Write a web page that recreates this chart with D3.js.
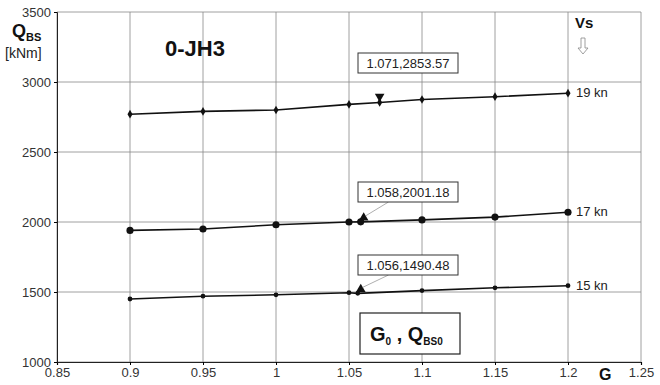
<!DOCTYPE html>
<html>
<head>
<meta charset="utf-8">
<script src="https://cdn.jsdelivr.net/npm/d3@7"></script>
<style>
  body { margin: 0; background: #fff; }
  svg { display: block; }
</style>
</head>
<body>
<div id="chart"></div>
<script>
// data
const gValues = [0.9, 0.95, 1.0, 1.05, 1.1, 1.15, 1.2];
const q19 = [2770, 2790, 2800, 2840, 2875, 2895, 2920];
const q17 = [1940, 1950, 1980, 2000, 2015, 2035, 2070];
const q15 = [1450, 1470, 1480, 1495, 1510, 1530, 1545];
const seriesNames = ["19 kn", "17 kn", "15 kn"];
const optG = [1.071, 1.058, 1.056];
const optQ = [2853.57, 2001.18, 1490.48];
const xTicks = [0.85, 0.9, 0.95, 1, 1.05, 1.1, 1.15, 1.2, 1.25];
const yTicks = [1000, 1500, 2000, 2500, 3000, 3500];

const width = 660, height = 385;
const margin = { left: 57, right: 19, top: 12, bottom: 23 };

const svg = d3.select("#chart").append("svg")
  .attr("width", width).attr("height", height)
  .attr("font-family", "Liberation Sans, Arial, sans-serif");

const x = d3.scaleLinear().domain([0.85, 1.25]).range([margin.left, width - margin.right]);
const y = d3.scaleLinear().domain([1000, 3500]).range([height - margin.bottom, margin.top]);

// grid
svg.append("g").selectAll("line.v").data(xTicks).join("line")
  .attr("x1", d => x(d)).attr("x2", d => x(d))
  .attr("y1", y(3500)).attr("y2", y(1000))
  .attr("stroke", "#888").attr("stroke-width", 0.8);
svg.append("g").selectAll("line.h").data(yTicks).join("line")
  .attr("x1", x(0.85)).attr("x2", x(1.25))
  .attr("y1", d => y(d)).attr("y2", d => y(d))
  .attr("stroke", "#888").attr("stroke-width", 0.8);

// axes
const xAxis = svg.append("g")
  .attr("transform", `translate(0,${y(1000)})`)
  .call(d3.axisBottom(x).tickValues(xTicks).tickSize(3).tickFormat(d3.format("~g")));
xAxis.select(".domain").attr("stroke", "#222").attr("stroke-width", 1.2);
xAxis.selectAll("text").attr("font-size", 13).attr("fill", "#333")
  .attr("font-family", "Liberation Sans, Arial, sans-serif");

const yAxis = svg.append("g")
  .attr("transform", `translate(${x(0.85)},0)`)
  .call(d3.axisLeft(y).tickValues(yTicks).tickSize(3).tickFormat(d3.format("d")));
yAxis.select(".domain").attr("stroke", "#222").attr("stroke-width", 1);
yAxis.selectAll("text").attr("font-size", 13).attr("fill", "#333")
  .attr("font-family", "Liberation Sans, Arial, sans-serif").attr("x", -6);

// series
const series = [q19, q17, q15].map((vals, i) => {
  const pts = gValues.map((g, j) => ({ g, q: vals[j] }));
  pts.push({ g: optG[i], q: optQ[i] });
  pts.sort((a, b) => a.g - b.g);
  return { name: seriesNames[i], pts, vals };
});

const line = d3.line().x(d => x(d.g)).y(d => y(d.q));
const markerSize = [22, 40, 18];
const markerType = [d3.symbolDiamond, d3.symbolCircle, d3.symbolCircle];

series.forEach((s, i) => {
  svg.append("path").datum(s.pts)
    .attr("d", line).attr("fill", "none")
    .attr("stroke", "#111").attr("stroke-width", 1.6);
  svg.append("g").selectAll("path").data(s.pts).join("path")
    .attr("transform", d => `translate(${x(d.g)},${y(d.q)})`)
    .attr("d", d3.symbol().type(markerType[i]).size(markerSize[i]))
    .attr("fill", "#111");
  svg.append("text")
    .attr("x", x(1.2) + 8).attr("y", y(s.vals[s.vals.length - 1]) + 4)
    .attr("font-size", 13).attr("fill", "#222").text(s.name);
});

// optimum markers and callouts
const boxTop = [53, 182, 255];
optG.forEach((g, i) => {
  const px = x(g), py = y(optQ[i]);
  if (i === 0) {
    svg.append("path")
      .attr("transform", `translate(${px},${py - 6}) rotate(180)`)
      .attr("d", d3.symbol().type(d3.symbolTriangle).size(40))
      .attr("fill", "#111");
    svg.append("line").attr("x1", px).attr("x2", px).attr("y1", py - 6).attr("y2", py)
      .attr("stroke", "#111").attr("stroke-width", 2);
  } else {
    svg.append("path")
      .attr("transform", `translate(${px + 3},${py - 4})`)
      .attr("d", d3.symbol().type(d3.symbolTriangle).size(40))
      .attr("fill", "#111");
    svg.append("line")
      .attr("x1", x(1.0565) + 30).attr("y1", boxTop[i] + 20)
      .attr("x2", px + 5).attr("y2", py - 6)
      .attr("stroke", "#999").attr("stroke-width", 0.8);
  }
  const label = `${d3.format(".3f")(g)},${d3.format(".2f")(optQ[i])}`;
  const g0 = svg.append("g").attr("transform", `translate(358,${boxTop[i]})`);
  g0.append("rect").attr("width", 100).attr("height", 20)
    .attr("fill", "#fff").attr("stroke", "#333").attr("stroke-width", 1);
  g0.append("text").attr("x", 50).attr("y", 15).attr("text-anchor", "middle")
    .attr("font-size", 13).attr("fill", "#222").text(label);
});

// G0, QBS0 box
const gq = svg.append("g").attr("transform", "translate(360,313)");
gq.append("rect").attr("width", 100).attr("height", 41)
  .attr("fill", "#fff").attr("stroke", "#222").attr("stroke-width", 1.2);
const gqText = gq.append("text").attr("x", 10).attr("y", 28)
  .attr("font-size", 20).attr("font-weight", "bold").attr("fill", "#111");
gqText.append("tspan").text("G");
gqText.append("tspan").attr("font-size", 10).attr("dy", 4).text("0");
gqText.append("tspan").attr("dy", -4).text(" , Q");
gqText.append("tspan").attr("font-size", 10).attr("dy", 4).text("BS0");

// titles
svg.append("text").attr("x", 165).attr("y", 56)
  .attr("font-size", 22).attr("font-weight", "bold").attr("fill", "#111").text("0-JH3");

const yl = svg.append("text").attr("x", 12).attr("y", 37)
  .attr("font-size", 18).attr("font-weight", "bold").attr("fill", "#111");
yl.append("tspan").text("Q");
yl.append("tspan").attr("font-size", 11).attr("dy", 4).text("BS");
svg.append("text").attr("x", 5).attr("y", 58)
  .attr("font-size", 14).attr("fill", "#222").text("[kNm]");

svg.append("text").attr("x", 599).attr("y", 380)
  .attr("font-size", 16).attr("font-weight", "bold").attr("fill", "#111").text("G");

svg.append("text").attr("x", 575).attr("y", 28)
  .attr("font-size", 15).attr("font-weight", "bold").attr("fill", "#111").text("Vs");

// hollow down arrow
svg.append("path")
  .attr("d", "M581,38 L581,48 L578,48 L583,54 L588,48 L585,48 L585,38 Z")
  .attr("fill", "#fff").attr("stroke", "#888").attr("stroke-width", 0.8);
</script>
</body>
</html>
